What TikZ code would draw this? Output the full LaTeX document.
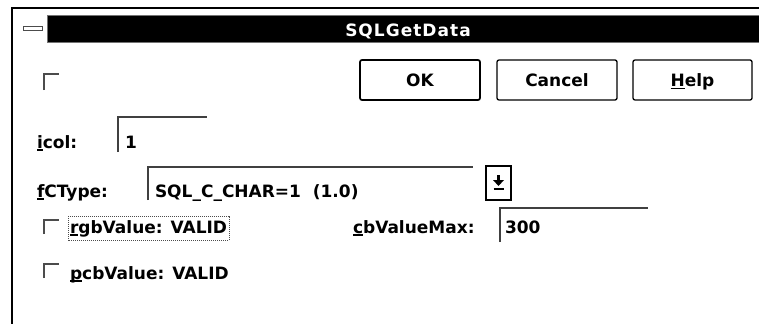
\documentclass[tikz,border=0pt]{standalone}
\usepackage{fontspec}
\setmainfont{DejaVu Sans}
\usetikzlibrary{calc}
% access-key underline under a single letter
\newcommand\acckey[1]{\setbox0=\hbox{#1}\rlap{\rule[-2.6pt]{\wd0}{1.2pt}}#1}
\newcommand\uifont{\fontsize{17pt}{20pt}\selectfont\bfseries}
\begin{document}
\begin{tikzpicture}[x=1pt,y=-1pt,
  every node/.style={inner sep=0pt, outer sep=0pt, font=\uifont},
  lbl/.style={anchor=base west},
  btn/.style={draw=black, line width=1.3pt, rounded corners=2pt,
    minimum width=120pt, minimum height=40pt, text height=12.4pt, text depth=0pt},
  fieldline/.style={draw=black!75, line width=1.2pt},
  chk/.style={draw=black!70, line width=1.3pt},
]
\useasboundingbox (0,0) rectangle (759,324);
\fill[white] (0,0) rectangle (759,324);

% dialog frame
\coordinate (frameTL) at (12,8);
\coordinate (frameTR) at (759,8);
\coordinate (frameBL) at (12,324);
\draw[line width=1.5pt] (frameTR) -- (frameTL) -- (frameBL);

% caption bar
\node[fill=black, draw=black!55, line width=1pt, minimum width=714pt,
  minimum height=27pt, anchor=north west] (titlebar) at (47,15) {};
\node[text=white, anchor=base] (title) at (408,36)
  {\addfontfeature{LetterSpace=6}SQLGetData};
\node[draw=black!70, fill=white, line width=1pt, minimum width=19pt,
  minimum height=4pt, anchor=north west] (sysmenu) at (23,26) {};

% push buttons
\node[btn, line width=1.7pt] (ok) at (420,80) {OK};
\node[btn] (cancel) at (557,80) {Cancel};
\node[btn, minimum width=119pt] (help) at (692.5,80) {\acckey{H}elp};

% top check box
\coordinate (cbtop) at (44,74);
\draw[chk] (cbtop) ++(0,16) -- (cbtop) -- ++(15,0);

% icol
\node[lbl] (icollbl) at (37,148) {\acckey{i}col:};
\coordinate (icolfield) at (118,117);
\draw[fieldline] (icolfield) ++(0,35) -- (icolfield) -- ++(89,0);
\node[lbl] (icolval) at (125,148) {1};

% fCType
\node[lbl] (ctypelbl) at (37,197) {\acckey{f}CType:};
\coordinate (ctypefield) at (148,167);
\draw[fieldline] (ctypefield) ++(0,33) -- (ctypefield) -- ++(325,0);
\node[lbl] (ctypeval) at (155,197) {SQL\_C\_CHAR=1\ \ (1.0)};
\node[draw=black, line width=1.3pt, minimum width=25pt, minimum height=34pt,
  anchor=north west] (dropbtn) at (486,166) {};
\fill ([shift={(-1.5,-8)}]dropbtn.center) rectangle ([shift={(1.5,-3)}]dropbtn.center);
\fill ([shift={(-5.5,-3)}]dropbtn.center) -- ([shift={(5.5,-3)}]dropbtn.center)
  -- ([shift={(0,3)}]dropbtn.center) -- cycle;
\draw[line width=1.5pt] ([shift={(-5,6)}]dropbtn.center) -- ([shift={(5,6)}]dropbtn.center);

% rgbValue
\coordinate (cbrgb) at (44,220);
\draw[chk] (cbrgb) ++(0,14) -- (cbrgb) -- ++(15,0);
\node[lbl] (rgb) at (70,233) {\acckey{r}gbValue: VALID};
\draw[black!70, line width=0.8pt, dash pattern=on 1pt off 1pt]
  ([shift={(-2,-4)}]rgb.north west) rectangle ([shift={(2,4)}]rgb.south east);

% cbValueMax
\node[lbl] (maxlbl) at (353,233) {\acckey{c}bValueMax:};
\coordinate (maxfield) at (500,208);
\draw[fieldline] (maxfield) ++(0,34) -- (maxfield) -- ++(148,0);
\node[lbl] (maxval) at (505,233) {300};

% pcbValue
\coordinate (cbpcb) at (44,264);
\draw[chk] (cbpcb) ++(0,14) -- (cbpcb) -- ++(15,0);
\node[lbl] (pcb) at (70,279) {\acckey{p}cbValue: VALID};
\end{tikzpicture}
\end{document}
